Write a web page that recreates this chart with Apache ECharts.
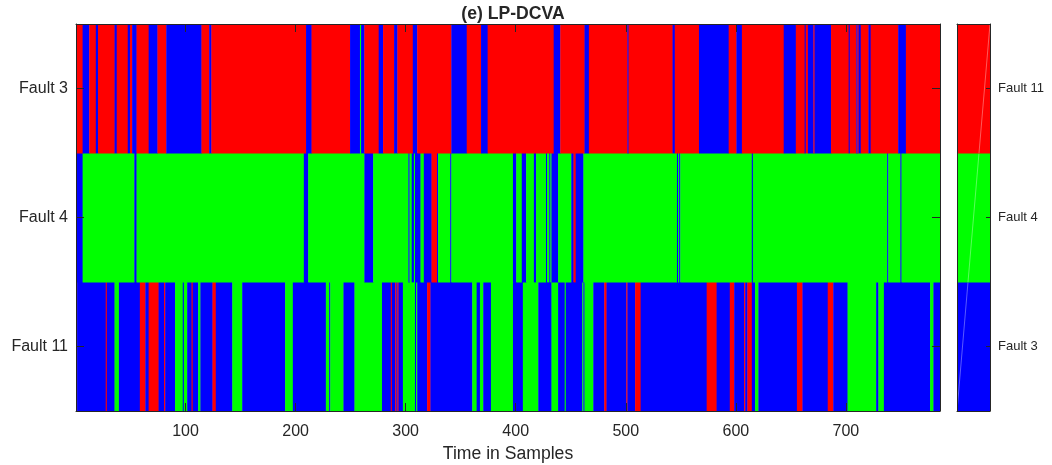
<!DOCTYPE html>
<html>
<head>
<meta charset="utf-8">
<style>
  html, body { margin: 0; padding: 0; background: #ffffff; }
  #chart { width: 1052px; height: 465px; }
</style>
<script src="https://cdn.jsdelivr.net/npm/echarts/dist/echarts.min.js"></script>
</head>
<body>
<div id="chart"></div>
<script>
// ---- data ----
const nSamples = 785;
const rowLabels = ['Fault 11', 'Fault 4', 'Fault 3'];      // y rows, bottom -> top
const classLevels = [3, 4, 11];                             // colorbar levels, bottom -> top
const classLabels = ['Fault 3', 'Fault 4', 'Fault 11'];     // colorbar tick labels
const xTickValues = [100, 200, 300, 400, 500, 600, 700];

// run-length classification per row: [class, last sample of run]
const runsFault3 = [[11,6],[3,12],[11,18],[3,20],[11,35],[3,37],[11,47],[3,49],[11,51],[3,55],[11,66],[3,74],[11,82],[3,114],[11,121],[3,123],[11,209],[3,214],[11,249],[3,258],[4,259],[3,262],[11,275],[3,279],[11,289],[3,292],[11,306],[3,310],[11,341],[3,355],[11,368],[3,374],[11,434],[3,440],[11,462],[3,466],[11,501],[3,502],[11,542],[3,544],[11,566],[3,593],[11,600],[3,605],[11,643],[3,654],[11,662],[3,663],[11,665],[3,670],[11,671],[3,686],[11,702],[3,703],[11,709],[3,710],[11,711],[3,713],[11,720],[3,722],[11,747],[3,754],[11,785]];
const runsFault4 = [[3,6],[4,53],[3,55],[4,207],[3,211],[4,262],[3,270],[4,302],[3,303],[4,305],[3,307],[4,308],[3,313],[4,316],[3,323],[11,328],[3,329],[4,340],[3,341],[4,397],[3,400],[4,405],[3,409],[4,416],[3,418],[4,427],[3,428],[4,430],[3,431],[4,432],[3,438],[4,450],[3,452],[11,454],[3,461],[4,546],[3,547],[4,548],[3,549],[4,614],[3,615],[4,737],[3,738],[4,749],[3,750],[4,785]];
const runsFault11 = [[11,1],[3,27],[11,28],[3,35],[4,39],[3,58],[11,63],[3,66],[11,75],[3,80],[11,81],[3,90],[4,97],[3,98],[4,101],[3,105],[11,106],[3,111],[4,113],[3,124],[11,127],[3,142],[4,151],[3,190],[4,197],[3,227],[4,230],[3,231],[4,243],[3,253],[4,278],[3,286],[11,287],[3,290],[11,291],[3,292],[11,293],[3,297],[4,308],[3,309],[4,310],[3,319],[11,322],[3,360],[4,364],[3,367],[4,370],[3,377],[4,397],[3,406],[4,420],[3,432],[4,438],[3,444],[4,445],[3,460],[4,461],[3,462],[4,470],[3,480],[11,482],[3,500],[11,501],[3,508],[11,513],[3,573],[11,582],[3,594],[11,598],[3,607],[11,608],[3,610],[11,614],[3,617],[4,620],[3,655],[11,660],[3,683],[11,688],[3,701],[4,727],[3,729],[4,734],[3,776],[4,779],[3,785]];

// ---- styles ----
const classColors = { 3: '#0000ff', 4: '#00ff00', 11: '#ff0000' };
const ink = '#262626';
const font = "'Liberation Sans', Arial, Helvetica, sans-serif";

function toCells(runs, row) {
  let start = 1;
  return runs.map(([cls, end]) => {
    const cell = [start, end, row, cls];
    start = end + 1;
    return cell;
  });
}
const cells = [].concat(
  toCells(runsFault11, 0),
  toCells(runsFault4, 1),
  toCells(runsFault3, 2)
);
const levelCells = classLevels.map((lv, i) => [i, lv]);

function renderRun(params, api) {
  const a = api.coord([api.value(0) - 0.5, api.value(2)]);
  const b = api.coord([api.value(1) + 0.5, api.value(2)]);
  const h = api.size([0, 1])[1];
  return {
    type: 'rect',
    shape: { x: a[0], y: a[1] - h / 2, width: b[0] - a[0] + 0.4, height: h + 0.4 },
    style: { fill: classColors[api.value(3)] }
  };
}
function renderLevel(params, api) {
  const i = api.value(0);
  const n = classLevels.length;
  const c = api.coord([0, i]);
  const h = api.size([0, 1])[1];
  const w = api.size([1, 0])[0];
  return {
    type: 'group',
    children: [
      {
        type: 'rect',
        shape: { x: c[0], y: c[1] - h / 2, width: w, height: h + 0.4 },
        style: { fill: classColors[api.value(1)] }
      },
      {
        type: 'line',
        shape: {
          x1: c[0] + w * i / n, y1: c[1] + h / 2,
          x2: c[0] + w * (i + 1) / n, y2: c[1] - h / 2
        },
        style: { stroke: '#ffffff', opacity: 0.35, lineWidth: 1 }
      }
    ]
  };
}

const axisLine = { show: true, onZero: false, lineStyle: { color: ink, width: 1 } };

const chart = echarts.init(document.getElementById('chart'), null, { renderer: 'canvas' });
chart.setOption({
  animation: false,
  backgroundColor: '#ffffff',
  textStyle: { fontFamily: font },
  title: {
    text: '(e) LP-DCVA',
    left: 508, top: 0, textAlign: 'center',
    textStyle: { fontFamily: font, fontSize: 17.6, fontWeight: 'bold', color: ink }
  },
  grid: [
    { left: 76, top: 24, width: 864, height: 387, containLabel: false, outerBoundsMode: 'none' },
    { left: 957, top: 24, width: 33, height: 387, containLabel: false, outerBoundsMode: 'none' }
  ],
  xAxis: [
    {
      gridIndex: 0, type: 'value', position: 'bottom', min: 0.5, max: nSamples + 0.5, z: 10,
      axisLine: axisLine,
      axisTick: { show: true, inside: true, length: 8, customValues: xTickValues, lineStyle: { color: ink } },
      axisLabel: { show: true, customValues: xTickValues, fontSize: 16, color: ink, margin: 13, fontFamily: font },
      splitLine: { show: false },
      name: 'Time in Samples', nameLocation: 'middle', nameGap: 34,
      nameTextStyle: { fontSize: 17.6, color: ink, fontFamily: font }
    },
    {
      gridIndex: 0, type: 'value', position: 'top', min: 0.5, max: nSamples + 0.5, z: 10,
      axisLine: axisLine,
      axisTick: { show: true, inside: true, length: 8, customValues: xTickValues, lineStyle: { color: ink } },
      axisLabel: { show: false },
      splitLine: { show: false }
    },
    {
      gridIndex: 1, type: 'value', position: 'bottom', min: 0, max: 1, z: 10,
      axisLine: axisLine, axisTick: { show: false }, axisLabel: { show: false }, splitLine: { show: false }
    },
    {
      gridIndex: 1, type: 'value', position: 'top', min: 0, max: 1, z: 10,
      axisLine: axisLine, axisTick: { show: false }, axisLabel: { show: false }, splitLine: { show: false }
    }
  ],
  yAxis: [
    {
      gridIndex: 0, type: 'category', position: 'left', data: rowLabels, z: 10,
      axisLine: axisLine,
      axisTick: { show: true, inside: true, length: 8, alignWithLabel: true, interval: 0, lineStyle: { color: ink } },
      axisLabel: { show: true, interval: 0, fontSize: 16, color: ink, margin: 8, fontFamily: font },
      splitLine: { show: false }
    },
    {
      gridIndex: 0, type: 'category', position: 'right', data: rowLabels, z: 10,
      axisLine: axisLine,
      axisTick: { show: true, inside: true, length: 8, alignWithLabel: true, interval: 0, lineStyle: { color: ink } },
      axisLabel: { show: false },
      splitLine: { show: false }
    },
    {
      gridIndex: 1, type: 'category', position: 'left', data: classLabels, z: 10,
      axisLine: axisLine, axisTick: { show: false }, axisLabel: { show: false }, splitLine: { show: false }
    },
    {
      gridIndex: 1, type: 'category', position: 'right', data: classLabels, z: 10,
      axisLine: axisLine,
      axisTick: { show: true, inside: true, length: 4, alignWithLabel: true, interval: 0, lineStyle: { color: ink } },
      axisLabel: { show: true, interval: 0, fontSize: 13, color: ink, margin: 8, fontFamily: font },
      splitLine: { show: false }
    }
  ],
  series: [
    {
      type: 'custom', name: 'classification',
      xAxisIndex: 0, yAxisIndex: 0,
      renderItem: renderRun,
      encode: { x: [0, 1], y: 2 },
      data: cells,
      clip: true,
      silent: true
    },
    {
      type: 'custom', name: 'colorbar',
      xAxisIndex: 2, yAxisIndex: 3,
      renderItem: renderLevel,
      encode: { y: 0 },
      data: levelCells,
      clip: true,
      silent: true
    }
  ]
});
</script>
</body>
</html>
